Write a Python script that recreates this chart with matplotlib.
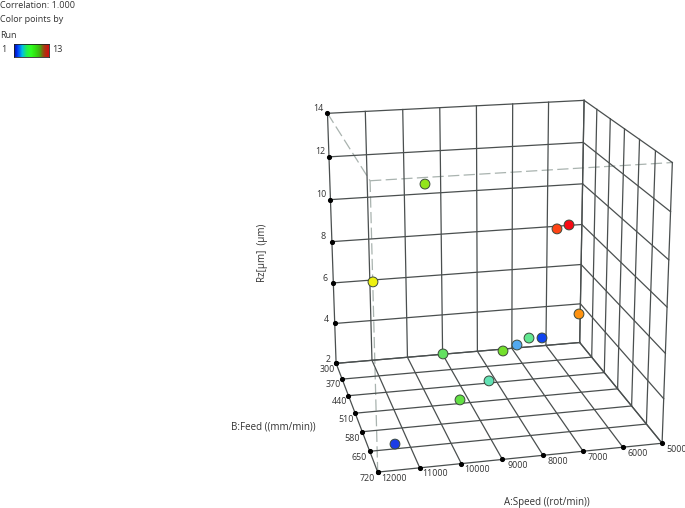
import numpy as np
import matplotlib
matplotlib.use('Agg')
import matplotlib.pyplot as plt
from matplotlib.colors import LinearSegmentedColormap

plt.rcParams['font.family'] = ['Open Sans', 'DejaVu Sans']

# runs
run = [1, 2, 3, 4, 5, 6, 7, 8, 9, 10, 11, 12, 13]
speed = [11404, 6400, 7112, 8495, 6771, 9195, 9266, 7509, 10103, 11071, 5346, 6722, 6407]
feed = [658, 361, 361, 510, 361, 361, 510, 361, 510, 361, 361, 510, 510]
rz = [2.32, 3.09, 2.84, 2.95, 3.14, 2.71, 2.17, 2.60, 12.10, 6.50, 4.14, 9.74, 9.88]

speed_ticks = [5000, 6000, 7000, 8000, 9000, 10000, 11000, 12000]
feed_ticks = [300, 370, 440, 510, 580, 650, 720]
rz_ticks = [2, 4, 6, 8, 10, 12, 14]

run_colors = ['#1c3ce6', '#1044f0', '#52aaf0', '#62e2b4', '#62e890', '#62e060', '#62e044',
              '#74e02c', '#92e41c', '#eef010', '#ff9210', '#ff4414', '#f80a14']
bar_colors = ['#0000a0', '#0040ff', '#00c0e0', '#20f050', '#30ff20', '#30e010', '#40b010', '#a04010', '#d01010']

grid_col = '#4a4f4f'
dash_col = '#a9b3af'
W, H = 685, 508

fig = plt.figure(figsize=(W / 100, H / 100), dpi=100)
ax = fig.add_axes([248.02 / W, (H - 512.89) / H, 468.62 / W, 468.62 / H], projection='3d')
ax.computed_zorder = False
ax.set_xlim(5000, 12000)
ax.set_ylim(300, 720)
ax.set_zlim(2, 14)
ax.view_init(18.182, 76.843, 0.086)
ax.set_proj_type('persp', focal_length=0.6114)
ax.set_box_aspect((0.9957, 1.0098, 1.0))
ax.set_axis_off()
ax.patch.set_alpha(0)


def line(xs, ys, zs, **kw):
    ax.plot(xs, ys, zs, clip_on=False, **kw)


solid = dict(color=grid_col, lw=0.9, zorder=2)
dashed = dict(color=dash_col, lw=0.9, dashes=(9, 3.5), zorder=1)

# back wall and floor lines along speed
for s in speed_ticks:
    line([s, s], [300, 300], [2, 14], **solid)
    line([s, s], [300, 720], [2, 2], **solid)
for z in rz_ticks:
    line([5000, 12000], [300, 300], [z, z], **solid)
    line([5000, 5000], [300, 720], [z, z], **solid)
# right wall and floor lines along feed
for f in feed_ticks:
    line([5000, 5000], [f, f], [2, 14], **solid)
    line([5000, 12000], [f, f], [2, 2], **solid)

# hidden edges of the box
line([12000, 12000], [300, 720], [14, 14], **dashed)
line([12000, 5000], [720, 720], [14, 14], **dashed)
line([12000, 12000], [720, 720], [14, 2], **dashed)

# tick dots
dot = dict(color='black', marker='o', ms=2.7, ls='none', zorder=3)
line([12000] * len(rz_ticks), [300] * len(rz_ticks), rz_ticks, **dot)
line([12000] * len(feed_ticks), feed_ticks, [2] * len(feed_ticks), **dot)
line(speed_ticks, [720] * len(speed_ticks), [2] * len(speed_ticks), **dot)

tick_text = dict(fontsize=6.4, color='#333333', ha='center', va='center', zorder=5)
for z in rz_ticks:
    ax.text(12225, 300, z + 0.25, str(z), **tick_text)
for f in feed_ticks:
    ax.text(12250, f, 1.75, str(f), **tick_text)
for s in speed_ticks:
    ax.text(s - 375, 720, 1.66, str(s), **tick_text)

ax.scatter(speed, feed, rz, c=run_colors, s=50, edgecolors='#3c4a3c', linewidths=0.7,
           depthshade=False, zorder=4, clip_on=False)

# axis titles
label_text = dict(fontsize=7.05, color='#333333', ha='center', va='center')
fig.text(262 / W, 1 - 253 / H, 'Rz[µm]  (µm)', rotation=90, **label_text)
fig.text(273 / W, 1 - 427 / H, 'B:Feed ((mm/min))', **label_text)
fig.text(547 / W, 1 - 502 / H, 'A:Speed ((rot/min))', **label_text)

# header block and colour key
head_text = dict(fontsize=6.5, color='#333333', ha='left', va='center')
fig.text(0, 1 - 5 / H, 'Correlation: 1.000', **head_text)
fig.text(0, 1 - 20 / H, 'Color points by', **head_text)
fig.text(0, 1 - 35 / H, 'Run', **head_text)
fig.text(1 / W, 1 - 50 / H, '1', **head_text)
fig.text(52 / W, 1 - 50 / H, '13', **head_text)

key = fig.add_axes([13.5 / W, 1 - 56.5 / H, 35 / W, 13 / H])
key.pcolormesh(np.linspace(0, 1, 129), [0, 1], np.linspace(0, 1, 128)[None, :],
               cmap=LinearSegmentedColormap.from_list('run', bar_colors), rasterized=False)
key.set_xticks([])
key.set_yticks([])
for side in key.spines.values():
    side.set_linewidth(0.6)
    side.set_color('#222222')

fig.savefig('out.png', dpi=100)
